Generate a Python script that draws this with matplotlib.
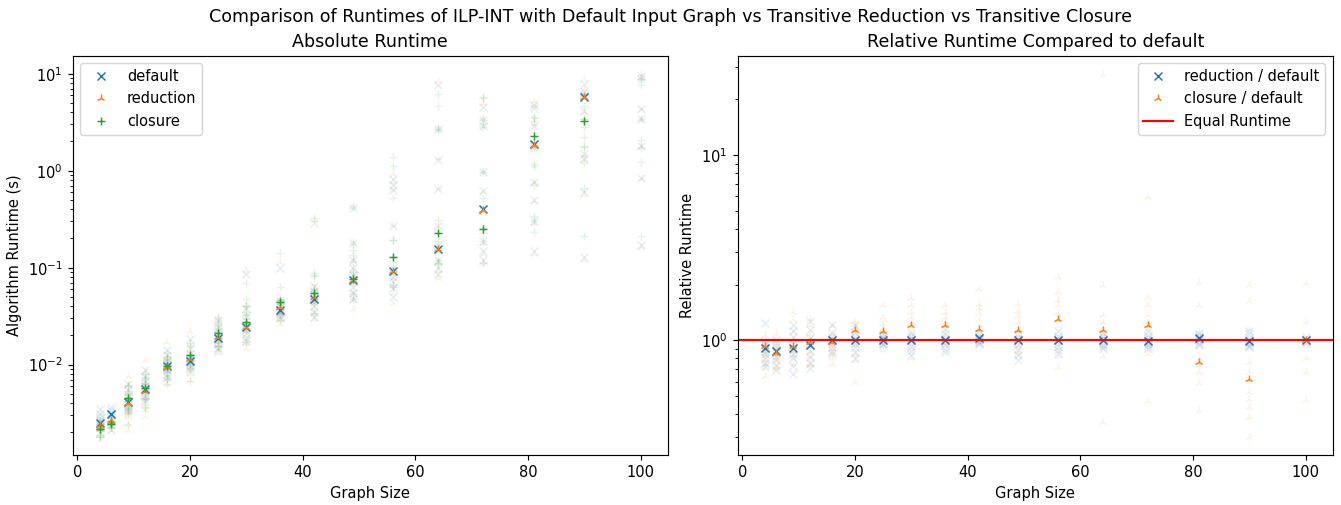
import numpy as np
import matplotlib
matplotlib.use("Agg")
import matplotlib.pyplot as plt

sizes = [4, 6, 9, 12, 16, 20, 25, 30, 36, 42, 49, 56, 64, 72, 81, 90, 100]

# individual runtimes (s) of the default input graph, one list per graph size
default_runs = [
    [0.0035, 0.0031, 0.0028, 0.0027, 0.0026, 0.0025, 0.0024, 0.0023, 0.0022, 0.0020],
    [0.0037, 0.0034, 0.0032, 0.0031, 0.0031, 0.0030, 0.0029, 0.0027, 0.0024, 0.0021],
    [0.0063, 0.0055, 0.0049, 0.0045, 0.0042, 0.0040, 0.0038, 0.0036, 0.0034, 0.0032],
    [0.0088, 0.0075, 0.0066, 0.0060, 0.0057, 0.0055, 0.0052, 0.0049, 0.0045, 0.0042],
    [0.0140, 0.0125, 0.0110, 0.0102, 0.0098, 0.0095, 0.0090, 0.0085, 0.0080, 0.0074],
    [0.0185, 0.0150, 0.0130, 0.0118, 0.0112, 0.0108, 0.0103, 0.0097, 0.0092, 0.0087],
    [0.028, 0.025, 0.022, 0.020, 0.019, 0.0185, 0.0175, 0.0165, 0.015, 0.014],
    [0.087, 0.038, 0.032, 0.028, 0.025, 0.024, 0.023, 0.021, 0.019, 0.0175],
    [0.100, 0.045, 0.041, 0.039, 0.037, 0.036, 0.035, 0.034, 0.032, 0.030],
    [0.29, 0.065, 0.058, 0.052, 0.049, 0.047, 0.044, 0.040, 0.035, 0.031],
    [0.41, 0.18, 0.12, 0.10, 0.085, 0.076, 0.072, 0.063, 0.055, 0.048],
    [0.83, 0.72, 0.63, 0.27, 0.10, 0.088, 0.080, 0.072, 0.062, 0.050],
    [7.6, 2.7, 1.3, 0.65, 0.27, 0.17, 0.15, 0.12, 0.10, 0.087],
    [4.5, 3.3, 2.9, 0.97, 0.62, 0.40, 0.38, 0.19, 0.15, 0.12],
    [4.8, 4.4, 2.9, 1.9, 1.8, 1.7, 0.76, 0.5, 0.3, 0.147],
    [7.8, 6.4, 6.0, 5.9, 5.8, 4.1, 1.5, 1.35, 0.6, 0.13],
    [9.5, 8.8, 4.3, 3.4, 1.8, 0.85, 0.17],
]

# per-run ratio reduction / default
reduction_ratio_runs = [
    [0.724, 0.76, 0.8, 0.85, 0.88, 0.91, 0.92, 0.94, 0.98, 1.235],
    [0.69, 0.736, 0.78, 0.82, 0.87, 0.88, 0.89, 0.92, 0.97, 1.0],
    [1.21, 1.12, 1.05, 0.97, 0.92, 0.89, 0.85, 0.8, 0.73, 0.66],
    [1.28, 1.14, 1.03, 0.97, 0.95, 0.94, 0.88, 0.81, 0.76, 0.706],
    [1.21, 1.1, 1.05, 1.02, 1.0, 1.0, 0.97, 0.92, 0.88, 0.85],
    [1.21, 1.1, 1.05, 1.02, 1.01, 1.0, 0.97, 0.92, 0.87, 0.8],
    [1.08, 1.05, 1.03, 1.02, 1.01, 1.0, 0.99, 0.97, 0.96, 0.94],
    [1.1, 1.06, 1.03, 1.01, 1.0, 1.0, 0.97, 0.93, 0.88, 0.84],
    [1.15, 1.08, 1.03, 1.01, 1.0, 1.0, 0.98, 0.94, 0.9, 0.87],
    [1.08, 1.05, 1.04, 1.03, 1.02, 1.02, 1.0, 0.98, 0.97, 0.96],
    [1.08, 1.05, 1.02, 1.0, 1.0, 0.99, 0.95, 0.9, 0.84, 0.78],
    [1.12, 1.06, 1.03, 1.01, 1.0, 1.0, 0.97, 0.93, 0.89, 0.86],
    [1.1, 1.06, 1.03, 1.01, 1.0, 1.0, 0.98, 0.95, 0.92, 0.9],
    [1.12, 1.07, 1.04, 1.02, 1.0, 0.99, 0.97, 0.95, 0.92, 0.9],
    [1.1, 1.07, 1.05, 1.03, 1.02, 1.02, 1.0, 0.98, 0.96, 0.95],
    [1.12, 1.08, 1.03, 1.0, 0.99, 0.99, 0.97, 0.95, 0.93, 0.92],
    [1.04, 1.02, 1.01, 1.0, 1.0, 0.98, 0.97],
]

# per-run ratio closure / default
closure_ratio_runs = [
    [0.75, 1.0, 0.645, 0.83, 0.706, 0.86, 0.78, 0.94, 1.07, 0.9],
    [0.7, 0.72, 0.78, 0.8, 0.85, 0.85, 0.88, 0.93, 1.0, 1.09],
    [0.84, 1.12, 0.93, 0.8, 1.43, 0.95, 1.31, 0.88, 1.0, 0.75],
    [0.82, 1.08, 0.98, 0.76, 1.31, 0.95, 1.21, 0.736, 0.99, 0.88],
    [0.8, 0.97, 1.03, 1.21, 0.95, 0.75, 1.1, 0.98, 0.9, 0.86],
    [0.6, 1.12, 0.94, 1.28, 1.15, 0.85, 1.23, 1.18, 1.1, 0.78],
    [0.886, 1.13, 1.0, 1.55, 1.15, 1.05, 1.34, 0.95, 1.22, 1.11],
    [0.8, 1.25, 1.1, 1.43, 1.0, 1.69, 1.18, 1.55, 0.9, 1.34],
    [1.43, 1.02, 1.55, 1.1, 1.22, 1.28, 0.94, 1.34, 1.2, 0.97],
    [1.12, 1.3, 1.05, 1.58, 1.16, 1.89, 1.0, 1.4, 0.98, 1.5],
    [1.0, 0.85, 1.45, 1.15, 1.58, 0.94, 1.25, 1.35, 0.87, 1.12],
    [1.65, 1.55, 0.82, 0.72, 1.30, 2.21, 1.43, 0.91, 1.03, 1.83],
    [0.82, 1.0, 2.0, 0.364, 1.15, 27.3, 1.26, 0.93, 1.1, 1.37],
    [1.26, 0.85, 1.16, 5.96, 1.55, 0.47, 1.37, 1.21, 1.72, 0.94],
    [0.74, 0.8, 1.11, 0.586, 1.0, 0.42, 1.55, 0.68, 0.77, 2.06],
    [0.44, 0.53, 0.767, 0.302, 0.387, 0.68, 1.16, 0.486, 1.99, 1.63],
    [0.8, 1.0, 0.48, 1.0, 0.68, 2.03, 1.26],
]

# median markers (NaN = not drawn)
default_median = [0.00251, 0.0031, 0.00413, 0.0056, 0.0096, 0.011, 0.0187, 0.0242,
                  0.0367, 0.0479, 0.0745, 0.093, 0.155, 0.40, 1.87, 5.78, np.nan]
reduction_median = [0.0024, 0.0027, 0.0040, 0.0053, 0.0094, 0.0114, 0.0193, 0.0247,
                    0.039, 0.050, 0.0745, 0.092, 0.155, 0.39, 1.85, 5.7, np.nan]
closure_median = [0.00217, 0.00245, 0.00458, 0.0057, 0.0096, 0.0127, 0.0214, 0.0272,
                  0.044, 0.0547, 0.077, 0.130, 0.229, 0.252, 2.26, 3.29, np.nan]
reduction_ratio_median = [0.912, 0.876, 0.905, 0.944, 1.0, 1.01, 1.01, 1.0, 1.0, 1.025,
                          1.0, 1.0, 1.0, 0.99, 1.025, 0.99, 1.005]
closure_ratio_median = [0.936, 0.851, 0.936, 0.984, 0.975, 1.137, 1.12, 1.21, 1.21, 1.16,
                        1.137, 1.30, 1.137, 1.21, 0.767, 0.618, 1.005]

C0, C1, C2 = "#1f77b4", "#ff7f0e", "#2ca02c"
FA = 0.12
DPI = 105

fig = plt.figure(figsize=(1341 / DPI, 505 / DPI), dpi=DPI)
ax1 = fig.add_axes([0.0543, 0.099, 0.4436, 0.790])
ax2 = fig.add_axes([0.5502, 0.099, 0.4436, 0.790])

# ---- absolute runtime ----
for s, d, rr, cr in zip(sizes, default_runs, reduction_ratio_runs, closure_ratio_runs):
    d = np.array(d)
    red = d * np.array(rr)
    clo = d * np.array(cr)
    xs = np.full(len(d), s)
    ax1.plot(xs, d, "x", color=C0, alpha=FA, linestyle="none")
    ax1.plot(xs, red, "2", color=C1, alpha=FA, linestyle="none")
    ax1.plot(xs, clo, "+", color=C2, alpha=FA, linestyle="none")

ax1.plot(sizes, default_median, "x", color=C0, linestyle="none", label="default")
ax1.plot(sizes, reduction_median, "2", color=C1, linestyle="none", label="reduction")
ax1.plot(sizes, closure_median, "+", color=C2, linestyle="none", label="closure")
ax1.set_yscale("log")
ax1.set_title("Absolute Runtime", fontsize=12)
ax1.set_xlabel("Graph Size")
ax1.set_ylabel("Algorithm Runtime (s)")
ax1.legend(loc="upper left")

# ---- relative runtime ----
for s, rr, cr in zip(sizes, reduction_ratio_runs, closure_ratio_runs):
    xs = np.full(len(rr), s)
    ax2.plot(xs, rr, "x", color=C0, alpha=FA, linestyle="none")
    ax2.plot(xs, cr, "2", color=C1, alpha=FA, linestyle="none")

ax2.plot(sizes, reduction_ratio_median, "x", color=C0, linestyle="none",
         label="reduction / default")
ax2.plot(sizes, closure_ratio_median, "2", color=C1, linestyle="none",
         label="closure / default")
ax2.axhline(1.0, color="red", label="Equal Runtime")
ax2.set_yscale("log")
ax2.set_title("Relative Runtime Compared to default", fontsize=12)
ax2.set_xlabel("Graph Size")
ax2.set_ylabel("Relative Runtime")
ax2.legend(loc="upper right")

fig.suptitle("Comparison of Runtimes of ILP-INT with Default Input Graph vs "
             "Transitive Reduction vs Transitive Closure", fontsize=12, y=0.985)

fig.savefig("out.png", dpi=DPI)
